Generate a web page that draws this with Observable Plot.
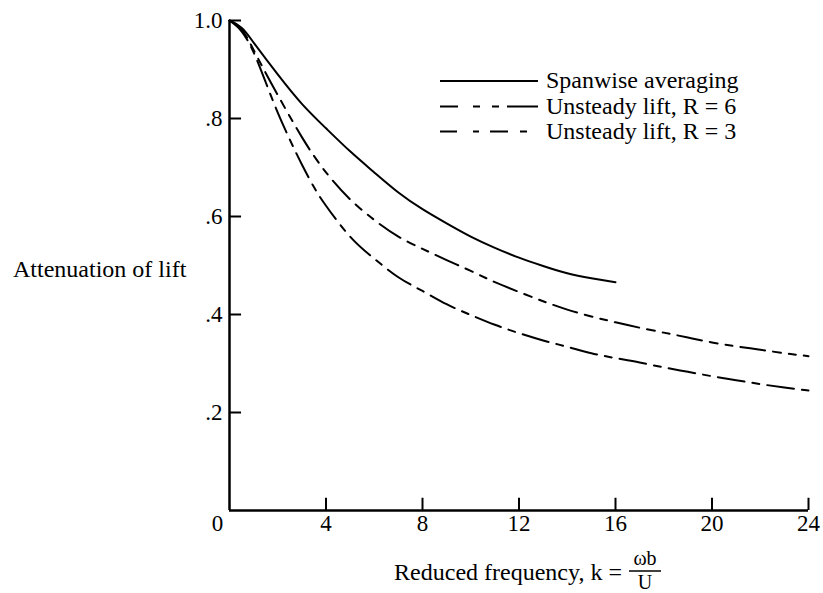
<!DOCTYPE html>
<html><head><meta charset="utf-8">
<script src="https://cdn.jsdelivr.net/npm/d3@7"></script>
<script src="https://cdn.jsdelivr.net/npm/@observablehq/plot@0.6"></script>
<style>body{margin:0;background:#fff} svg{display:block}</style>
</head><body><div id="chart"></div>
<script>
// Spanwise averaging (solid)
const kSpan = [0,0.5,1,2,3,4,5,6,7,8,9,10,11,12,13,14,15,16];
const vSpan = [1,0.985,0.955,0.89,0.83,0.78,0.733,0.69,0.649,0.615,0.586,0.559,0.536,0.516,0.499,0.484,0.474,0.466];
// Unsteady lift, R = 6
const kR6 = [0,0.5,1,1.5,2,3,4,5,6,7,8,9,10,11,12,13,14,15,16,17,18,19,20,21,22,23,24];
const vR6 = [1,0.982,0.94,0.893,0.848,0.762,0.69,0.635,0.593,0.559,0.534,0.511,0.489,0.466,0.446,0.427,0.41,0.396,0.384,0.373,0.363,0.353,0.343,0.335,0.328,0.321,0.315];
// Unsteady lift, R = 3
const kR3 = [0,0.5,1,1.5,2,2.5,3,3.5,4,5,6,7,8,9,10,11,12,13,14,15,16,17,18,19,20,21,22,23,24];
const vR3 = [1,0.978,0.935,0.874,0.812,0.757,0.706,0.66,0.622,0.559,0.514,0.476,0.448,0.421,0.399,0.379,0.362,0.347,0.334,0.321,0.311,0.302,0.292,0.283,0.274,0.266,0.258,0.251,0.245];

const seriesNames = ["Spanwise averaging", "Unsteady lift, R = 6", "Unsteady lift, R = 3"];
const xTicks = [4, 8, 12, 16, 20, 24];
const xTickLabels = ["4", "8", "12", "16", "20", "24"];
const yTicks = [0.2, 0.4, 0.6, 0.8, 1.0];
const yTickLabels = [".2", ".4", ".6", ".8", "1.0"];

const toRows = (ks, vs) => ks.map((k, i) => ({k, v: vs[i]}));
const span = toRows(kSpan, vSpan), r6 = toRows(kR6, vR6), r3 = toRows(kR3, vR3);

const curveDash = ["none", "25,8,8,8,7,8", "27,8,7,8"];
const legendDash = ["none", "18,15,7,12,7,8,40", "17,16,6,11,18,12,7,40"];
const FONT = "'Liberation Serif', 'Times New Roman', serif";
const FS = 24;
const TFS = 23;

const plot = Plot.plot({
  width: 823, height: 593,
  marginLeft: 229, marginRight: 15, marginTop: 20, marginBottom: 83,
  x: {domain: [0, 24], axis: null},
  y: {domain: [0, 1], axis: null},
  style: {fontFamily: FONT, fontSize: FS + "px", background: "white", color: "black"},
  marks: [
    Plot.ruleX([0], {y1: 0, y2: 1, strokeWidth: 2.5, stroke: "black"}),
    Plot.ruleY([0], {x1: 0, x2: 24, strokeWidth: 2.5, stroke: "black"}),
    Plot.ruleY(yTicks, {x1: 0, x2: 0.5, strokeWidth: 2, stroke: "black"}),
    Plot.ruleX(xTicks, {y1: 0, y2: 0.025, strokeWidth: 2, stroke: "black"}),
    Plot.text(yTicks, {x: 0, y: d => d, text: (d, i) => yTickLabels[i], textAnchor: "end", dx: -7, fontSize: TFS, fill: "black"}),
    Plot.text(xTicks, {x: d => d, y: 0, text: (d, i) => xTickLabels[i], lineAnchor: "top", dy: 4, fontSize: TFS, fill: "black"}),
    Plot.text(["0"], {x: 0, y: 0, text: d => d, lineAnchor: "top", dy: 4, dx: -12, fontSize: TFS, fill: "black"}),
    Plot.line(span, {x: "k", y: "v", curve: "natural", stroke: "black", strokeWidth: 2}),
    Plot.line(r6, {x: "k", y: "v", curve: "natural", stroke: "black", strokeWidth: 2, strokeDasharray: curveDash[1]}),
    Plot.line(r3, {x: "k", y: "v", curve: "natural", stroke: "black", strokeWidth: 2, strokeDasharray: curveDash[2]})
  ]
});
document.getElementById("chart").appendChild(plot);

const svg = d3.select(plot);
// Y label
svg.append("text").attr("x", 13).attr("y", 277).attr("text-anchor", "start")
  .attr("font-family", FONT).attr("font-size", FS).attr("fill", "black").text("Attenuation of lift");
// X label with fraction
const xl = svg.append("g").attr("font-family", FONT).attr("fill", "black");
xl.append("text").attr("x", 622).attr("y", 580).attr("font-size", FS).attr("text-anchor", "end").text("Reduced frequency, k =");
xl.append("text").attr("x", 645).attr("y", 565).attr("font-size", 20).attr("text-anchor", "middle").text("ωb");
xl.append("line").attr("x1", 629).attr("x2", 661).attr("y1", 571).attr("y2", 571).attr("stroke", "black").attr("stroke-width", 1.5);
xl.append("text").attr("x", 645).attr("y", 588.5).attr("font-size", 20).attr("text-anchor", "middle").text("U");
// Legend
const rowsY = [81, 106.5, 131.5];
const lg = svg.append("g").attr("font-family", FONT).attr("font-size", FS).attr("fill", "black");
seriesNames.forEach((name, i) => {
  lg.append("line").attr("x1", 440).attr("x2", 538).attr("y1", rowsY[i]).attr("y2", rowsY[i])
    .attr("stroke", "black").attr("stroke-width", 2)
    .attr("stroke-dasharray", legendDash[i]);
  lg.append("text").attr("x", 546).attr("y", rowsY[i] + 7).attr("text-anchor", "start").text(name);
});
</script></body></html>
